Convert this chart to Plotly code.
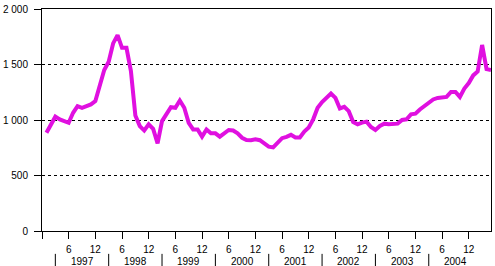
import plotly.graph_objects as go

# Monthly values, Jan 1997 .. May 2005
values = [
    885, 960, 1030, 1005, 985, 975, 1065, 1125, 1110, 1125, 1140, 1170,      # 1997
    1300, 1450, 1525, 1690, 1765, 1650, 1650, 1440, 1040, 945, 905, 960,     # 1998
    920, 790, 990, 1050, 1115, 1110, 1175, 1110, 975, 915, 915, 850,         # 1999
    915, 880, 880, 850, 875, 910, 905, 880, 840, 820, 818, 827,              # 2000
    818, 790, 760, 753, 798, 836, 848, 866, 842, 842, 896, 932,              # 2001
    1006, 1110, 1161, 1199, 1238, 1199, 1104, 1119, 1080, 982, 961, 976,     # 2002
    985, 937, 911, 946, 967, 961, 961, 967, 1000, 1006, 1051, 1057,          # 2003
    1095, 1125, 1146, 1185, 1199, 1199, 1208, 1253, 1253, 1208, 1283, 1333,  # 2004
    1402, 1437, 1676, 1458, 1450,                                            # 2005
]
month_index = list(range(1, len(values) + 1))

x_tick_vals = [0, 6, 12, 18, 24, 30, 36, 42, 48, 54, 60, 66, 72, 78, 84, 90, 96]
x_tick_text = ["", "6", "12", "6", "12", "6", "12", "6", "12", "6", "12", "6", "12", "6", "12", "6", "12"]

years = ["1997", "1998", "1999", "2000", "2001", "2002", "2003", "2004"]
year_centers = [9, 21, 33, 45, 57, 69, 81, 93]
year_separators = [3, 15, 27, 39, 51, 63, 75, 87]

y_tick_vals = [0, 500, 1000, 1500, 2000]
y_tick_text = ["0", "500", "1 000", "1 500", "2 000"]

font = dict(family="Arial, Liberation Sans, sans-serif", size=10, color="black")

fig = go.Figure()
fig.add_trace(go.Scatter(
    x=month_index, y=values, mode="lines",
    line=dict(color="#E010E0", width=4),
    hoverinfo="skip", showlegend=False,
))

for yr, c in zip(years, year_centers):
    fig.add_annotation(x=c, y=-0.136, xref="x", yref="paper", text=yr,
                       showarrow=False, font=font, xanchor="center", yanchor="middle",
                       borderpad=0)

for s in year_separators:
    fig.add_shape(type="line", xref="x", yref="paper", x0=s, x1=s,
                  y0=-0.103, y1=-0.16, line=dict(color="black", width=1))

fig.update_layout(
    width=495, height=266,
    margin=dict(l=40, r=3, t=7, b=35),
    paper_bgcolor="white", plot_bgcolor="white",
    font=font,
    xaxis=dict(
        range=[0, 101], tickmode="array", tickvals=x_tick_vals, ticktext=x_tick_text,
        ticks="outside", ticklen=7, tickcolor="black", tickwidth=1,
        showline=True, linecolor="black", linewidth=1, mirror=True,
        showgrid=False, zeroline=False, tickfont=font, ticklabelstandoff=2,
    ),
    yaxis=dict(
        range=[0, 2000], tickmode="array", tickvals=y_tick_vals, ticktext=y_tick_text,
        ticks="outside", ticklen=7, tickcolor="black", tickwidth=1,
        showline=True, linecolor="black", linewidth=1, mirror=True,
        showgrid=True, gridcolor="black", gridwidth=1, griddash="3px,3px",
        zeroline=False, tickfont=font, ticklabelstandoff=4,
    ),
)

fig.write_html("out.html")
